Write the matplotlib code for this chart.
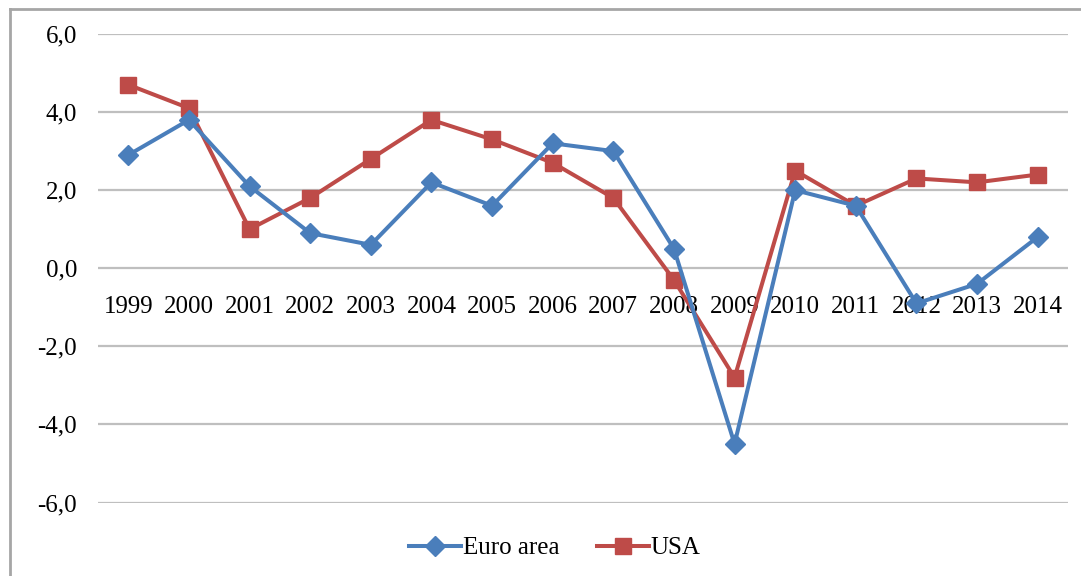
import matplotlib
matplotlib.use("Agg")
import matplotlib.pyplot as plt
from matplotlib.lines import Line2D

years = ["1999", "2000", "2001", "2002", "2003", "2004", "2005", "2006",
         "2007", "2008", "2009", "2010", "2011", "2012", "2013", "2014"]
euro_area = [2.9, 3.8, 2.1, 0.9, 0.6, 2.2, 1.6, 3.2, 3.0, 0.5, -4.5, 2.0, 1.6, -0.9, -0.4, 0.8]
usa = [4.7, 4.1, 1.0, 1.8, 2.8, 3.8, 3.3, 2.7, 1.8, -0.3, -2.8, 2.5, 1.6, 2.3, 2.2, 2.4]
y_ticks = [-6, -4, -2, 0, 2, 4, 6]
y_tick_labels = ["-6,0", "-4,0", "-2,0", "0,0", "2,0", "4,0", "6,0"]

plt.rcParams['font.family'] = ['Liberation Serif', 'DejaVu Serif']
FS = 18

fig = plt.figure(figsize=(10.81, 5.76), dpi=100)
ax = fig.add_axes([98 / 1081, 1 - 502.5 / 576, 970 / 1081, (502.5 - 34) / 576])

for s in ["top", "right", "left", "bottom"]:
    ax.spines[s].set_visible(False)
ax.spines['bottom'].set_position(('data', 0))

x = list(range(len(years)))
blue = "#4A7EBB"
red = "#BE4B48"
LW = 2.9
ax.plot(x, euro_area, color=blue, lw=LW, marker="D", markersize=10, label="Euro area", zorder=3)
ax.plot(x, usa, color=red, lw=LW, marker="s", markersize=11.5, label="USA", zorder=2)

ax.set_xlim(-0.5, len(years) - 0.5)
ax.set_ylim(-6, 6)
ax.set_yticks(y_ticks)
ax.set_yticklabels(y_tick_labels, fontsize=FS)
ax.yaxis.grid(True, color="#BFBFBF", lw=1.6)
ax.set_axisbelow(True)
ax.tick_params(axis="y", length=0, pad=15)

ax.set_xticks(x)
ax.set_xticklabels(years, fontsize=FS)
ax.tick_params(axis="x", length=0, pad=20)

handles = [Line2D([], [], color=blue, lw=LW, marker="D", markersize=10),
           Line2D([], [], color=red, lw=LW, marker="s", markersize=11.5)]
fig.legend(handles, ["Euro area", "USA"], loc="center", bbox_to_anchor=(0.513, 1 - 548 / 576),
           ncol=2, frameon=False, fontsize=FS, handlelength=2.1, handletextpad=0.05,
           columnspacing=1.5)

# outer frame (left and top edges visible)
fig.add_artist(Line2D([9.5 / 1081, 9.5 / 1081], [0, 1 - 8.5 / 576], transform=fig.transFigure,
                      color="#A6A6A6", lw=2))
fig.add_artist(Line2D([9.5 / 1081, 1.0], [1 - 8.5 / 576, 1 - 8.5 / 576], transform=fig.transFigure,
                      color="#A6A6A6", lw=2))

fig.savefig("out.png", dpi=100, facecolor="white")
